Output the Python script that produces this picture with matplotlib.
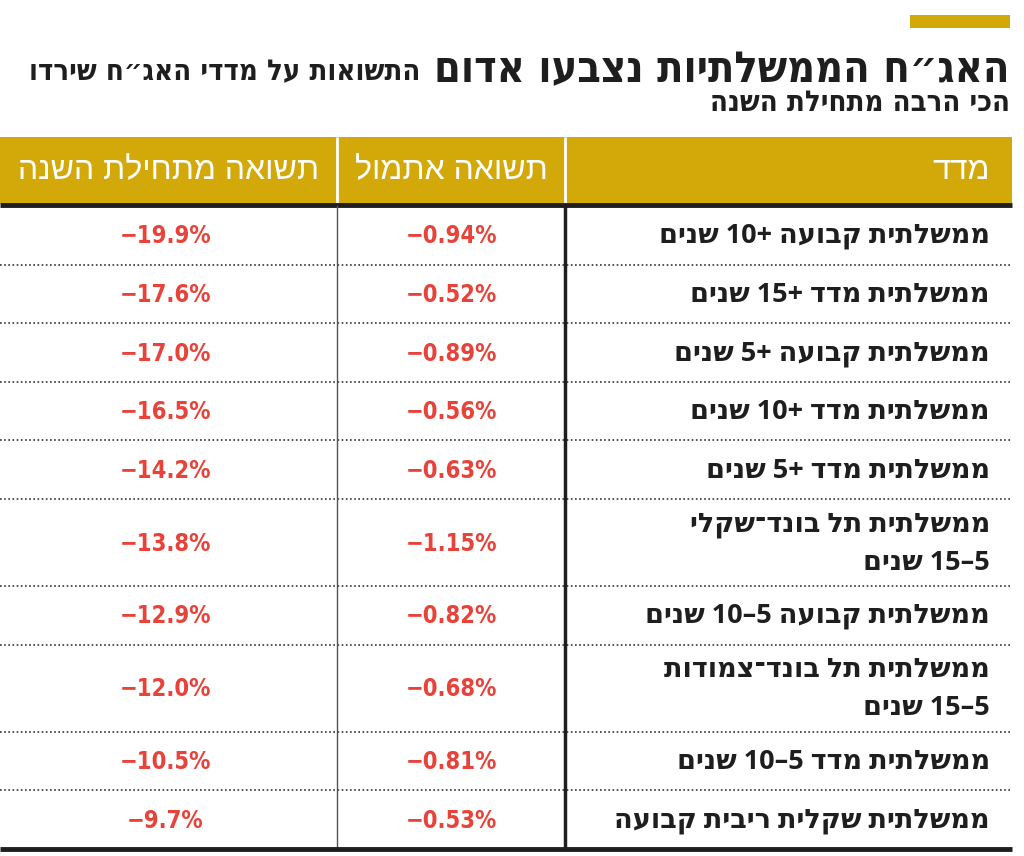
import re

import matplotlib
matplotlib.use('Agg')
from matplotlib import pyplot as plt
from matplotlib.patches import Rectangle

GOLD = '#d3a90a'
RED = '#e8433a'
INK = '#1e1e1e'

title = 'האג״ח הממשלתיות נצבעו אדום'
subtitle = ['התשואות על מדדי האג״ח שירדו', 'הכי הרבה מתחילת השנה']
headers = ['מדד', 'תשואה אתמול', 'תשואה מתחילת השנה']

labels = [
    'ממשלתית קבועה +10 שנים',
    'ממשלתית מדד +15 שנים',
    'ממשלתית קבועה +5 שנים',
    'ממשלתית מדד +10 שנים',
    'ממשלתית מדד +5 שנים',
    'ממשלתית תל בונד־שקלי\n5–15 שנים',
    'ממשלתית קבועה 5–10 שנים',
    'ממשלתית תל בונד־צמודות\n5–15 שנים',
    'ממשלתית מדד 5–10 שנים',
    'ממשלתית שקלית ריבית קבועה',
]
yield_yesterday = [-0.94, -0.52, -0.89, -0.56, -0.63, -1.15, -0.82, -0.68, -0.81, -0.53]
yield_ytd = [-19.9, -17.6, -17.0, -16.5, -14.2, -13.8, -12.9, -12.0, -10.5, -9.7]


def rtl(s):
    # matplotlib has no bidi: flip to visual order, keep digit runs LTR
    lines = []
    for line in s.split('\n'):
        r = line[::-1]
        lines.append(re.sub(r'[0-9.]+', lambda m: m.group(0)[::-1], r))
    return '\n'.join(lines)


def pct(v, nd):
    return f'{v:.{nd}f}%'.replace('-', '−')


DV = ['DejaVu Sans']
HEAD = ['Liberation Sans', 'DejaVu Sans']
BODY = ['Open Sans', 'DejaVu Sans']

fig = plt.figure(figsize=(10.24, 8.56), dpi=100)
ax = fig.add_axes([0, 0, 1, 1])
ax.set_xlim(0, 1024)
ax.set_ylim(856, 0)
ax.axis('off')

right = 1012
col_x = [0, 337, 565, right]

# title block
ax.add_patch(Rectangle((910, 15), 100, 13, color=GOLD, lw=0))
ax.text(1010, 82, rtl(title), ha='right', va='baseline', fontsize=31,
        weight='bold', family=DV, fontstretch='condensed', color=INK)
ax.text(420, 80, rtl(subtitle[0]), ha='right', va='baseline', fontsize=21,
        weight='bold', family=DV, fontstretch='condensed', color=INK)
ax.text(1010, 111, rtl(subtitle[1]), ha='right', va='baseline', fontsize=21,
        weight='bold', family=DV, fontstretch='condensed', color=INK)

# header
ax.add_patch(Rectangle((0, 137), right, 67, color=GOLD, lw=0))
ax.vlines(col_x[1:3], 137, 204, color='white', lw=2)
hy = 171
ax.text(990, hy, rtl(headers[0]), ha='right', va='center', fontsize=23,
        family=HEAD, color='white')
ax.text((col_x[1] + col_x[2]) / 2, hy, rtl(headers[1]), ha='center', va='center',
        fontsize=23, family=HEAD, color='white')
ax.text((col_x[0] + col_x[1]) / 2, hy, rtl(headers[2]), ha='center', va='center',
        fontsize=23, family=HEAD, color='white')
ax.hlines(205, 0, right, color=INK, lw=3.5)

# rows
y = 206
for lab, v1, v2 in zip(labels, yield_yesterday, yield_ytd):
    h = 87 if '\n' in lab else 58.6
    cy = y + h / 2 + 1
    ax.text(990, cy, rtl(lab), ha='right', va='center', ma='right',
            fontsize=19.5, weight='bold', family=BODY, color=INK,
            linespacing=1.6)
    ax.text((col_x[1] + col_x[2]) / 2, cy, pct(v1, 2), ha='center', va='center',
            fontsize=17, weight='bold', family=DV, fontstretch='condensed',
            color=RED)
    ax.text((col_x[0] + col_x[1]) / 2 - 3, cy, pct(v2, 1), ha='center', va='center',
            fontsize=17, weight='bold', family=DV, fontstretch='condensed',
            color=RED)
    y += h
    if lab != labels[-1]:
        ax.hlines(y, 0, right, color='#333333', lw=1.2, linestyles=(0, (1, 1.5)))

ax.vlines(col_x[2], 205, y, color=INK, lw=2.5)
ax.vlines(col_x[1], 205, y, color='#555555', lw=1)
ax.hlines(y, 0, right, color=INK, lw=3.5)

fig.savefig('out.png', dpi=100)
